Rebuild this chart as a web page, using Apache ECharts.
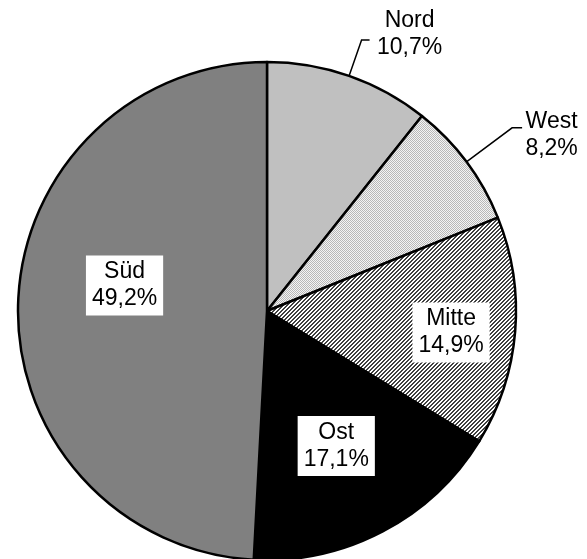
<!DOCTYPE html>
<html>
<head>
<meta charset="utf-8">
<style>
  html, body { margin: 0; padding: 0; background: #fff; }
  #chart { width: 587px; height: 559px; }
</style>
<script src="https://cdn.jsdelivr.net/npm/echarts@6/dist/echarts.min.js"></script>
</head>
<body>
<div id="chart"></div>
<script>
// ---- data ----
const categories = ['Nord', 'West', 'Mitte', 'Ost', 'Süd'];
const values = [10.7, 8.2, 14.9, 17.1, 49.2];
const outsideLabels = ['Nord', 'West'];

// ---- layout / style (not data) ----
const labelShift = { Nord: [2, -6], West: [-3, 7], Mitte: [57, 11], Ost: [10, 22], 'Süd': [-15, -22] };
const lineLen = { Nord: [38, 8], West: [57, 10] };
const outBoxWidth = { Nord: 66, West: 55 };

function makePattern(size, draw) {
  const c = document.createElement('canvas');
  c.width = size; c.height = size;
  const ctx = c.getContext('2d');
  draw(ctx);
  return { image: c, repeat: 'repeat' };
}
const westPattern = makePattern(2, ctx => {
  ctx.fillStyle = '#f4f4f4'; ctx.fillRect(0, 0, 2, 2);
  ctx.fillStyle = '#b8b8b8'; ctx.fillRect(0, 0, 1, 1); ctx.fillRect(1, 1, 1, 1);
});
const mittePattern = makePattern(4, ctx => {
  ctx.fillStyle = '#ffffff'; ctx.fillRect(0, 0, 4, 4);
  ctx.fillStyle = '#404040';
  for (let i = 0; i < 4; i++) { ctx.fillRect(i, 3 - i, 1, 1); ctx.fillRect(i, (4 - i) % 4, 1, 1); }
});
const fills = { Nord: '#c0c0c0', West: westPattern, Mitte: mittePattern, Ost: '#000000', 'Süd': '#808080' };

const fmt = v => v.toFixed(1).replace('.', ',') + '%';
const FONT = 'Liberation Sans, Arial, sans-serif';

const chart = echarts.init(document.getElementById('chart'), null, { renderer: 'canvas' });
chart.setOption({
  animation: false,
  backgroundColor: '#ffffff',
  textStyle: { fontFamily: FONT },
  series: [{
    type: 'pie',
    center: [267, 311],
    radius: 249,
    startAngle: 90,
    clockwise: true,
    avoidLabelOverlap: false,
    itemStyle: { borderColor: '#000', borderWidth: 2.5 },
    emphasis: { disabled: true },
    labelLine: { lineStyle: { color: '#000', width: 1.5 } },
    label: {
      color: '#000',
      fontSize: 23,
      lineHeight: 27,
      fontFamily: FONT
    },
    labelLayout: function (p) {
      const name = categories[p.dataIndex];
      const s = labelShift[name] || [0, 0];
      return { dx: s[0], dy: s[1] };
    },
    data: categories.map((name, i) => {
      const outside = outsideLabels.indexOf(name) >= 0;
      return {
        name: name,
        value: values[i],
        itemStyle: { color: fills[name] },
        label: outside ? {
          position: 'outside',
          formatter: '{a|' + name + '}\n{a|' + fmt(values[i]) + '}',
          rich: { a: { fontSize: 23, lineHeight: 27, align: 'center', width: outBoxWidth[name], color: '#000', fontFamily: FONT } }
        } : {
          position: 'inside',
          formatter: name + '\n' + fmt(values[i]),
          backgroundColor: '#ffffff',
          padding: [3, 6, 3, 6],
          align: 'center'
        },
        labelLine: outside ? { show: true, length: lineLen[name][0], length2: lineLen[name][1] } : { show: false }
      };
    })
  }]
});
</script>
</body>
</html>
